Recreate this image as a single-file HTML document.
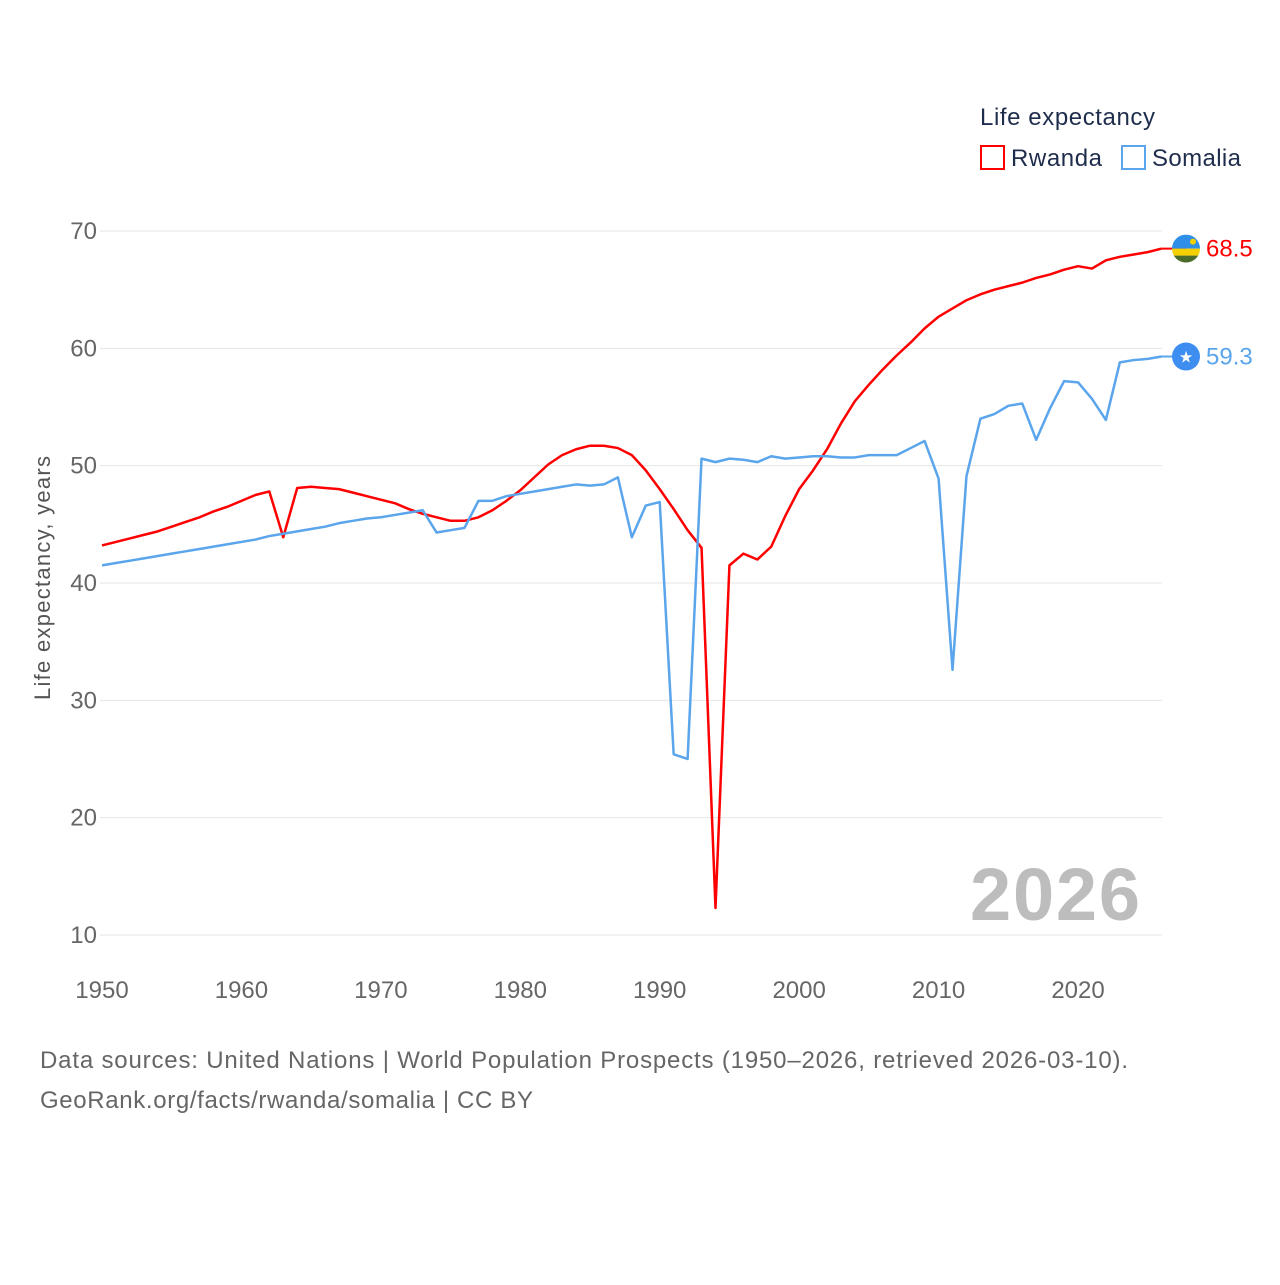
<!DOCTYPE html>
<html><head><meta charset="utf-8"><style>
body{margin:0;background:#fff;font-family:"Liberation Sans",sans-serif}
svg text{font-family:"Liberation Sans",sans-serif}
</style></head><body>
<svg id="chart" width="1280" height="1280">
<text x="980" y="125" font-size="24" fill="#1f2d4d" textLength="175">Life expectancy</text>
<g><rect x="981" y="146" width="23" height="23" fill="none" stroke="#ff0000" stroke-width="2"/><text x="1011" y="166" font-size="24" fill="#1f2d4d" textLength="91">Rwanda</text></g>
<g><rect x="1122" y="146" width="23" height="23" fill="none" stroke="#5aa5ec" stroke-width="2"/><text x="1152" y="166" font-size="24" fill="#1f2d4d" textLength="89">Somalia</text></g>
<g id="grid"></g><g id="xt"></g>
<text x="1140" y="920" font-size="74" font-weight="bold" fill="#bdbdbd" text-anchor="end" textLength="170">2026</text>
<text transform="translate(50,578) rotate(-90)" font-size="22" fill="#555" text-anchor="middle" textLength="244">Life expectancy, years</text>
<g id="lines"></g>
<text x="40" y="1068" font-size="24" fill="#666" textLength="1088">Data sources: United Nations | World Population Prospects (1950–2026, retrieved 2026-03-10).</text>
<text x="40" y="1108" font-size="24" fill="#666" textLength="493">GeoRank.org/facts/rwanda/somalia | CC BY</text>
</svg>
<script>
const years=[];for(let y=1950;y<=2026;y++)years.push(y);
const rwanda=[43.2,43.5,43.8,44.1,44.4,44.8,45.2,45.6,46.1,46.5,47.0,47.5,47.8,43.9,48.1,48.2,48.1,48.0,47.7,47.4,47.1,46.8,46.3,45.9,45.6,45.3,45.3,45.6,46.2,47.0,47.9,49.0,50.1,50.9,51.4,51.7,51.7,51.5,50.9,49.6,48.0,46.3,44.5,43.0,12.3,41.5,42.5,42.0,43.1,45.7,48.0,49.6,51.4,53.6,55.5,56.9,58.2,59.4,60.5,61.7,62.7,63.4,64.1,64.6,65.0,65.3,65.6,66.0,66.3,66.7,67.0,66.8,67.5,67.8,68.0,68.2,68.5];
const somalia=[41.5,41.7,41.9,42.1,42.3,42.5,42.7,42.9,43.1,43.3,43.5,43.7,44.0,44.2,44.4,44.6,44.8,45.1,45.3,45.5,45.6,45.8,46.0,46.2,44.3,44.5,44.7,47.0,47.0,47.4,47.6,47.8,48.0,48.2,48.4,48.3,48.4,49.0,43.9,46.6,46.9,25.4,25.0,50.6,50.3,50.6,50.5,50.3,50.8,50.6,50.7,50.8,50.8,50.7,50.7,50.9,50.9,50.9,51.5,52.1,48.9,32.6,49.1,54.0,54.4,55.1,55.3,52.2,54.9,57.2,57.1,55.7,53.9,58.8,59.0,59.1,59.3];
const yTicks=[10,20,30,40,50,60,70];
const xTicks=[1950,1960,1970,1980,1990,2000,2010,2020];
const NS='http://www.w3.org/2000/svg';
const X=v=>102+(v-1950)*13.943, Y=v=>231+(70-v)*11.733;
function mk(t,a,p){const e=document.createElementNS(NS,t);for(const k in a)e.setAttribute(k,a[k]);p.appendChild(e);return e;}
const g=document.getElementById('grid');
yTicks.forEach(t=>{const l=mk('line',{x1:100,x2:1162,y1:Y(t),y2:Y(t),stroke:'#e6e6e6','stroke-width':1},g);


const tx=mk('text',{x:97,y:Y(t)+8,'font-size':24,fill:'#666','text-anchor':'end'},g);tx.textContent=t;

});
const xg=document.getElementById('xt');
xTicks.forEach(t=>{const tx=mk('text',{x:X(t),y:998,'font-size':24,fill:'#666','text-anchor':'middle'},xg);tx.textContent=t;

});
const lg=document.getElementById('lines');
function series(vals,col,name){
const p=mk('polyline',{points:vals.map((v,i)=>X(years[i])+','+Y(v)).join(' '),fill:'none',stroke:col,'stroke-width':2.5,'stroke-linejoin':'round'},lg);


const last=vals[vals.length-1],ly=Y(last);
mk('line',{x1:X(2026),x2:1186,y1:ly,y2:ly,stroke:col,'stroke-width':2},lg);
const lab=mk('text',{x:1206,y:ly+8,'font-size':24,fill:col},lg);lab.textContent=last.toFixed(1);


return ly;}
const ry=series(rwanda,'#ff0000','rwanda');
const sy=series(somalia,'#5aa5ec','somalia');
const fr=mk('g',{},lg);


const cp=mk('clipPath',{id:'cr'},fr);
mk('circle',{cx:1186,cy:ry,r:14},cp);
const gg=mk('g',{'clip-path':'url(#cr)'},fr);
mk('rect',{x:1172,y:ry-14,width:28,height:14,fill:'#2e8ee8'},gg);
mk('rect',{x:1172,y:ry,width:28,height:7,fill:'#f5d000'},gg);
mk('rect',{x:1172,y:ry+7,width:28,height:7,fill:'#4a6b2a'},gg);
mk('circle',{cx:1193,cy:ry-7,r:3,fill:'#f5d000'},gg);
const fs=mk('g',{},lg);


mk('circle',{cx:1186,cy:sy,r:14,fill:'#3d8ef0'},fs);
const st=mk('text',{x:1186,y:sy+6,'font-size':16,fill:'#fff','text-anchor':'middle'},fs);st.textContent='★';
</script>
</body></html>
